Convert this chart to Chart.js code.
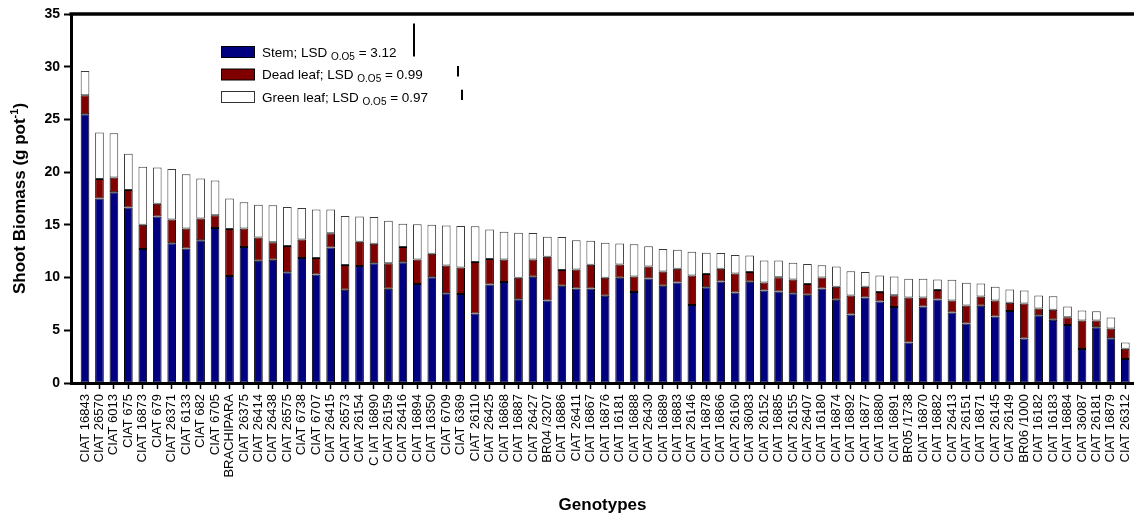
<!DOCTYPE html>
<html>
<head>
<meta charset="utf-8">
<title>Shoot biomass</title>
<script src="https://cdn.jsdelivr.net/npm/chart.js@4.4.1/dist/chart.umd.min.js"></script>
<style>
  html, body { margin: 0; padding: 0; background: #fff; }
  canvas { display: block; }
</style>
</head>
<body>
<canvas id="biomassChart" width="1134" height="518"></canvas>
<script>
const genotypes = [
  'CIAT 16843', 'CIAT 26570', 'CIAT 6013', 'CIAT 675', 'CIAT 16873', 'CIAT 679', 'CIAT 26371', 'CIAT 6133', 'CIAT 682', 'CIAT 6705',
  'BRACHIPARA', 'CIAT 26375', 'CIAT 26414', 'CIAT 26438', 'CIAT 26575', 'CIAT 6738', 'CIAT 6707', 'CIAT 26415', 'CIAT 26573', 'CIAT 26154',
  'C IAT 16890', 'CIAT 26159', 'CIAT 26416', 'CIAT 16894', 'CIAT 16350', 'CIAT 6709', 'CIAT 6369', 'CIAT 26110', 'CIAT 26425', 'CIAT 16868',
  'CIAT 16887', 'CIAT 26427', 'BR04 /3207', 'CIAT 16886', 'CIAT 26411', 'CIAT 16867', 'CIAT 16876', 'CIAT 16181', 'CIAT 16888', 'CIAT 26430',
  'CIAT 16889', 'CIAT 16883', 'CIAT 26146', 'CIAT 16878', 'CIAT 16866', 'CIAT 26160', 'CIAT 36083', 'CIAT 26152', 'CIAT 16885', 'CIAT 26155',
  'CIAT 26407', 'CIAT 16180', 'CIAT 16874', 'CIAT 16892', 'CIAT 16877', 'CIAT 16880', 'CIAT 16891', 'BR05 /1738', 'CIAT 16870', 'CIAT 16882',
  'CIAT 26413', 'CIAT 26151', 'CIAT 16871', 'CIAT 26145', 'CIAT 26149', 'BR06 /1000', 'CIAT 16182', 'CIAT 16183', 'CIAT 16884', 'CIAT 36087',
  'CIAT 26181', 'CIAT 16879', 'CIAT 26312'
];

// g pot-1, one value per genotype, stacked stem / dead leaf / green leaf
const stem = [
  25.5, 17.5, 18.1, 16.65, 12.7, 15.8, 13.25, 12.75, 13.55, 14.7,
  10.15, 12.9, 11.6, 11.7, 10.5, 11.85, 10.3, 12.85, 8.85, 11.1,
  11.35, 8.95, 11.45, 9.38, 10.04, 8.52, 8.43, 6.59, 9.34, 9.57,
  7.95, 10.07, 7.82, 9.22, 8.96, 8.96, 8.27, 9.98, 8.62, 9.91,
  9.22, 9.53, 7.41, 9.09, 9.63, 8.58, 9.6, 8.77, 8.68, 8.52,
  8.36, 8.96, 7.89, 6.49, 8.11, 7.73, 7.22, 3.83, 7.25, 7.92,
  6.68, 5.64, 7.32, 6.3, 6.84, 4.21, 6.43, 5.99, 5.51, 3.23,
  5.29, 4.24, 2.28
];
const deadLeaf = [
  1.8, 1.85, 1.4, 1.65, 2.3, 1.2, 2.25, 1.9, 2.05, 1.2,
  4.45, 1.75, 2.2, 1.65, 2.5, 1.75, 1.55, 1.35, 2.35, 2.3,
  1.85, 2.4, 1.45, 2.34, 2.22, 2.63, 2.53, 4.88, 2.41, 2.15,
  2.03, 1.65, 4.15, 1.49, 1.81, 2.25, 1.71, 1.26, 1.48, 1.14,
  1.36, 1.3, 2.79, 1.24, 1.2, 1.81, 0.92, 0.76, 1.36, 1.3,
  1.02, 1.05, 1.23, 1.81, 1.01, 0.89, 1.11, 4.28, 0.86, 0.89,
  1.14, 1.71, 0.88, 1.52, 0.76, 3.33, 0.63, 0.95, 0.73, 2.69,
  0.63, 0.92, 0.98
];
const greenLeaf = [
  2.3, 4.4, 4.2, 3.45, 5.5, 3.45, 4.8, 5.15, 3.8, 3.3,
  2.9, 2.5, 3.1, 3.5, 3.7, 3.0, 4.6, 2.25, 4.65, 2.4,
  2.55, 4.05, 2.2, 3.33, 2.74, 3.8, 3.94, 3.39, 2.82, 2.63,
  4.27, 2.5, 1.9, 3.13, 2.76, 2.28, 3.32, 2.0, 3.05, 1.91,
  2.12, 1.81, 2.25, 2.02, 1.49, 1.74, 1.58, 2.09, 1.58, 1.58,
  1.9, 1.17, 1.93, 2.31, 1.4, 1.58, 1.77, 1.77, 1.77, 1.01,
  1.97, 2.15, 1.24, 1.3, 1.27, 1.23, 1.24, 1.3, 1.01, 0.95,
  0.89, 1.05, 0.57
];

const seriesNames = ['Stem', 'Dead leaf', 'Green leaf'];
const lsdValues = [3.12, 0.99, 0.97];
const lsdSubscript = 'O.O5';

const FONT = "'Liberation Sans', Arial, Helvetica, sans-serif";
const fills = ['#000080', '#800000', '#ffffff'];
const edges = ['#000000', '#000000', '#3a3a3a'];

function toPoints(values) {
  return values.map((v, i) => ({ x: i, y: v }));
}

function makeDataset(index, values) {
  return {
    label: seriesNames[index],
    data: toPoints(values),
    backgroundColor: fills[index],
    borderColor: edges[index],
    borderWidth: 1,
    borderSkipped: false,
    categoryPercentage: 1,
    barPercentage: 0.6
  };
}

// legend with LSD bars, axis titles and the top frame line
const extrasPlugin = {
  id: 'extras',
  afterDraw(chart) {
    const ctx = chart.ctx;
    const area = chart.chartArea;
    const y = chart.scales.y;
    const pxPerUnit = y.getPixelForValue(0) - y.getPixelForValue(1);

    ctx.save();
    ctx.strokeStyle = '#000';
    ctx.lineWidth = 3.5;
    ctx.beginPath();
    ctx.moveTo(area.left - 1.5, area.top);
    ctx.lineTo(chart.width, area.top);
    ctx.stroke();

    // y title with superscript
    ctx.translate(24.5, (area.top + area.bottom) / 2);
    ctx.rotate(-Math.PI / 2);
    ctx.fillStyle = '#000';
    ctx.textBaseline = 'alphabetic';
    ctx.textAlign = 'left';
    const bigFont = 'bold 17px ' + FONT;
    const supFont = 'bold 11px ' + FONT;
    ctx.font = bigFont;
    const w1 = ctx.measureText('Shoot Biomass (g pot').width;
    const w3 = ctx.measureText(')').width;
    ctx.font = supFont;
    const w2 = ctx.measureText('-1').width;
    let tx = -(w1 + w2 + w3) / 2;
    ctx.font = bigFont;
    ctx.fillText('Shoot Biomass (g pot', tx, 0);
    tx += w1;
    ctx.font = supFont;
    ctx.fillText('-1', tx, -7);
    tx += w2;
    ctx.font = bigFont;
    ctx.fillText(')', tx, 0);
    ctx.restore();

    // legend
    const rowBase = [56.5, 79, 101.5];
    const lsdX = [414, 458, 462];
    const lsdBottom = [56.5, 76.5, 100];
    ctx.save();
    ctx.textBaseline = 'alphabetic';
    ctx.textAlign = 'left';
    ctx.fillStyle = '#000';
    for (let i = 0; i < seriesNames.length; i++) {
      const by = rowBase[i] - 10;
      ctx.fillStyle = fills[i];
      ctx.fillRect(221.5, by, 33, 11);
      ctx.strokeStyle = i == 2 ? '#333' : '#000';
      ctx.lineWidth = 1;
      ctx.strokeRect(221.5, by, 33, 11);

      ctx.fillStyle = '#000';
      let x = 262;
      ctx.font = '13.5px ' + FONT;
      const head = seriesNames[i] + '; LSD ';
      ctx.fillText(head, x, rowBase[i]);
      x += ctx.measureText(head).width;
      ctx.font = '10px ' + FONT;
      ctx.fillText(lsdSubscript, x, rowBase[i] + 3);
      x += ctx.measureText(lsdSubscript).width;
      ctx.font = '13.5px ' + FONT;
      ctx.fillText(' = ' + lsdValues[i].toFixed(2), x, rowBase[i]);

      ctx.strokeStyle = '#000';
      ctx.lineWidth = 2;
      ctx.beginPath();
      ctx.moveTo(lsdX[i], lsdBottom[i]);
      ctx.lineTo(lsdX[i], lsdBottom[i] - lsdValues[i] * pxPerUnit);
      ctx.stroke();
    }
    ctx.restore();
  }
};

new Chart('biomassChart', {
  type: 'bar',
  data: {
    datasets: [
      makeDataset(0, stem),
      makeDataset(1, deadLeaf),
      makeDataset(2, greenLeaf)
    ]
  },
  options: {
    responsive: false,
    animation: false,
    devicePixelRatio: 1,
    layout: { padding: { top: 14, right: 0, bottom: 0, left: 0 } },
    plugins: {
      legend: { display: false },
      tooltip: { enabled: false }
    },
    scales: {
      x: {
        type: 'linear',
        stacked: true,
        offset: false,
        min: -0.97,
        max: 72.6,
        afterFit: s => { s.height = 135; s.paddingLeft = 0; s.paddingRight = 0; },
        grid: { offset: false, drawOnChartArea: false, drawTicks: true, tickLength: 6, tickWidth: 1.5, tickColor: '#000' },
        border: { display: true, color: '#000', width: 3 },
        ticks: {
          stepSize: 1,
          includeBounds: false,
          autoSkip: false,
          maxRotation: 90,
          minRotation: 90,
          padding: 5,
          color: '#000',
          font: { family: FONT, size: 13 },
          callback: v => genotypes[v] ?? ''
        },
        title: {
          display: true,
          text: 'Genotypes',
          color: '#000',
          font: { family: FONT, size: 17, weight: 'bold' },
          padding: { top: 0, bottom: 2 }
        }
      },
      y: {
        stacked: true,
        min: 0,
        max: 35,
        afterFit: s => { s.width = 71; s.paddingTop = 0; s.paddingBottom = 0; },
        grid: { drawOnChartArea: false, drawTicks: true, tickLength: 7, tickWidth: 2, tickColor: '#000' },
        border: { display: true, color: '#000', width: 3 },
        ticks: {
          stepSize: 5,
          padding: 4,
          color: '#000',
          font: { family: FONT, size: 14, weight: 'bold' }
        }
      }
    }
  },
  plugins: [extrasPlugin]
});
</script>
</body>
</html>
